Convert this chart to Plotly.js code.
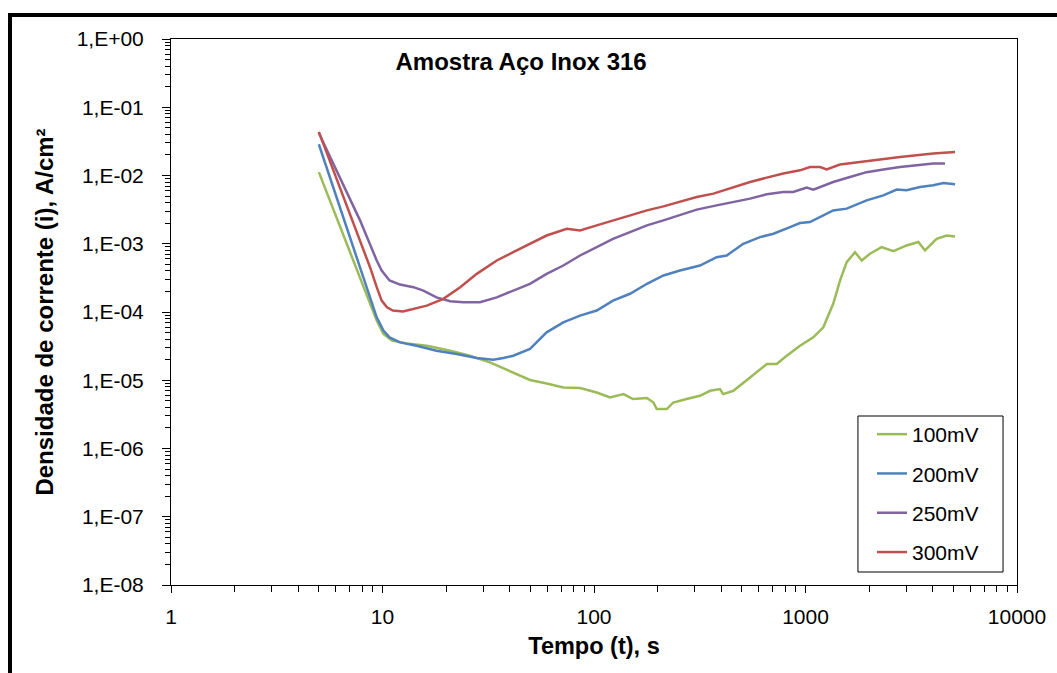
<!DOCTYPE html>
<html>
<head>
<meta charset="utf-8">
<script src="https://cdn.plot.ly/plotly-3.0.1.min.js"></script>
<style>
  html, body { margin: 0; padding: 0; background: #fff; }
  #wrap { position: relative; width: 1057px; height: 673px; overflow: hidden; }
  #chart { position: absolute; left: 0; top: 0; width: 1057px; height: 673px; }
  #frame { position: absolute; left: 8px; top: 13px; width: 1100px; height: 700px;
           border-top: 4px solid #000; border-left: 4px solid #000; pointer-events: none; }
</style>
</head>
<body>
<div id="wrap"><div id="chart"></div><div id="frame"></div></div>
<script>
// ---- data (time in s, current density in A/cm²) ----
const seriesNames = ["100mV", "200mV", "250mV", "300mV"];

const t100 = [5.0, 9.39, 10.1, 11.1, 13.0, 16.2, 20.9, 25.9, 32.2, 40.1, 49.8, 59.7, 71.6, 85.9, 103, 119, 138, 153, 178, 191, 198, 221, 237, 274, 317, 354, 394, 408, 456, 547, 656, 731, 815, 942, 1089, 1214, 1352, 1456, 1566, 1714, 1844, 2018, 2291, 2602, 3008, 3414, 3673, 4018, 4170, 4653, 5093];
const i100 = [1.12e-2, 7.48e-5, 4.77e-5, 3.80e-5, 3.47e-5, 3.21e-5, 2.71e-5, 2.29e-5, 1.83e-5, 1.35e-5, 1.01e-5, 8.97e-6, 7.84e-6, 7.68e-6, 6.62e-6, 5.59e-6, 6.27e-6, 5.30e-6, 5.48e-6, 4.72e-6, 3.78e-6, 3.78e-6, 4.72e-6, 5.30e-6, 5.92e-6, 7.01e-6, 7.43e-6, 6.27e-6, 7.01e-6, 1.10e-5, 1.73e-5, 1.73e-5, 2.29e-5, 3.21e-5, 4.25e-5, 5.96e-5, 1.32e-4, 2.89e-4, 5.37e-4, 7.53e-4, 5.69e-4, 7.13e-4, 8.91e-4, 7.78e-4, 9.44e-4, 1.06e-3, 7.98e-4, 1.06e-3, 1.18e-3, 1.32e-3, 1.28e-3];

const t200 = [5.0, 9.39, 10.1, 10.8, 12.1, 14.5, 18.0, 22.4, 27.9, 33.4, 37.3, 41.5, 49.8, 59.7, 71.6, 85.9, 103, 123, 148, 178, 213, 255, 317, 380, 424, 508, 609, 705, 845, 942, 1050, 1352, 1566, 1945, 2333, 2700, 3008, 3478, 4018, 4485, 5093];
const i200 = [2.87e-2, 8.36e-5, 5.33e-5, 4.25e-5, 3.59e-5, 3.21e-5, 2.71e-5, 2.43e-5, 2.12e-5, 2.00e-5, 2.12e-5, 2.29e-5, 2.87e-5, 5.04e-5, 7.06e-5, 8.85e-5, 1.05e-4, 1.47e-4, 1.85e-4, 2.59e-4, 3.43e-4, 4.06e-4, 4.80e-4, 6.36e-4, 6.73e-4, 1.00e-3, 1.25e-3, 1.40e-3, 1.75e-3, 2.01e-3, 2.08e-3, 3.08e-3, 3.27e-3, 4.32e-3, 5.12e-3, 6.21e-3, 6.07e-3, 6.78e-3, 7.18e-3, 7.76e-3, 7.43e-3];

const t250 = [5.0, 7.83, 9.39, 9.91, 10.8, 12.1, 14.0, 15.6, 18.0, 20.9, 24.1, 28.9, 34.7, 41.5, 49.8, 59.7, 71.6, 85.9, 103, 123, 148, 178, 213, 255, 306, 380, 456, 547, 656, 785, 875, 1013, 1089, 1352, 1623, 1945, 2333, 2799, 3356, 4018, 4568];
const i250 = [4.2e-2, 2.20e-3, 5.69e-4, 4.06e-4, 2.89e-4, 2.52e-4, 2.31e-4, 2.06e-4, 1.64e-4, 1.44e-4, 1.39e-4, 1.39e-4, 1.64e-4, 2.06e-4, 2.59e-4, 3.62e-4, 4.80e-4, 6.73e-4, 8.91e-4, 1.18e-3, 1.48e-3, 1.86e-3, 2.20e-3, 2.61e-3, 3.16e-3, 3.65e-3, 4.08e-3, 4.58e-3, 5.30e-3, 5.73e-3, 5.73e-3, 6.64e-3, 6.21e-3, 8.03e-3, 9.51e-3, 1.12e-2, 1.22e-2, 1.33e-2, 1.41e-2, 1.50e-2, 1.50e-2];

const t300 = [5.0, 8.73, 9.39, 9.91, 10.5, 11.2, 12.5, 16.2, 19.4, 23.3, 27.9, 34.7, 41.5, 49.8, 59.7, 74.3, 85.9, 103, 123, 148, 178, 213, 255, 306, 367, 456, 547, 656, 785, 942, 1050, 1172, 1259, 1456, 1945, 2799, 4018, 5093];
const i300 = [4.36e-2, 4.53e-4, 2.31e-4, 1.47e-4, 1.17e-4, 1.05e-4, 1.02e-4, 1.24e-4, 1.56e-4, 2.31e-4, 3.62e-4, 5.69e-4, 7.53e-4, 1.00e-3, 1.32e-3, 1.66e-3, 1.57e-3, 1.86e-3, 2.20e-3, 2.61e-3, 3.08e-3, 3.53e-3, 4.08e-3, 4.83e-3, 5.42e-3, 6.78e-3, 8.03e-3, 9.31e-3, 1.07e-2, 1.19e-2, 1.33e-2, 1.33e-2, 1.23e-2, 1.45e-2, 1.63e-2, 1.87e-2, 2.10e-2, 2.21e-2];

const yTickVals = [1e-8, 1e-7, 1e-6, 1e-5, 1e-4, 1e-3, 1e-2, 1e-1, 1];
const yTickText = ["1,E-08", "1,E-07", "1,E-06", "1,E-05", "1,E-04", "1,E-03", "1,E-02", "1,E-01", "1,E+00"];
const xTickVals = [1, 10, 100, 1000, 10000];
const xTickText = ["1", "10", "100", "1000", "10000"];

const colors = ["#9BBB59", "#4F81BD", "#8064A2", "#C0504D"];

// minor tick positions (2..9 within each decade)
function minorTicks(lo, hi) {
  const out = [];
  for (let e = lo; e < hi; e++) for (let k = 2; k <= 9; k++) out.push(k * Math.pow(10, e));
  return out;
}

const xs = [t100, t200, t250, t300];
const ys = [i100, i200, i250, i300];
const traces = seriesNames.map((n, k) => ({
  x: xs[k], y: ys[k], name: n, type: "scatter", mode: "lines",
  legendgroup: n,
  line: { color: colors[k], width: 2.5 }
}));

const fontFam = "Liberation Sans, Arial, sans-serif";
const layout = {
  width: 1057, height: 673,
  margin: { l: 171, r: 40, t: 39, b: 88 },
  paper_bgcolor: "rgba(0,0,0,0)",
  plot_bgcolor: "#fff",
  font: { family: fontFam, color: "#000", size: 21 },
  title: {
    text: "<b>Amostra Aço Inox 316</b>",
    font: { family: fontFam, size: 24, color: "#000" },
    x: 0.493, xanchor: "center", y: 0.908, yanchor: "middle"
  },
  xaxis: {
    type: "log", range: [0, 4],
    tickmode: "array", tickvals: xTickVals, ticktext: xTickText,
    ticks: "outside", ticklen: 7, tickcolor: "#000", tickwidth: 1,
    minor: { tickmode: "array", tickvals: minorTicks(0, 4), ticks: "outside", ticklen: 6, tickcolor: "#000", showgrid: false },
    showline: true, linecolor: "#000", linewidth: 1, mirror: true,
    showgrid: false, zeroline: false,
    tickfont: { size: 21, color: "#000" },
    ticklabelstandoff: 6,
    title: { text: "<b>Tempo (t), s</b>", font: { size: 23.5, color: "#000" }, standoff: 10 }
  },
  yaxis: {
    type: "log", range: [-8, 0],
    tickmode: "array", tickvals: yTickVals, ticktext: yTickText,
    ticks: "outside", ticklen: 8, tickcolor: "#000", tickwidth: 1,
    minor: { tickmode: "array", tickvals: minorTicks(-8, 0), ticks: "outside", ticklen: 5, tickcolor: "#000", showgrid: false },
    showline: true, linecolor: "#000", linewidth: 1, mirror: true,
    showgrid: false, zeroline: false,
    tickfont: { size: 21, color: "#000" },
    ticklabelstandoff: 14,
    title: { text: "<b>Densidade de corrente (i), A/cm²</b>", font: { size: 24, color: "#000" }, standoff: 16 }
  },
  shapes: [{
    type: "rect", xref: "paper", yref: "paper", layer: "above",
    x0: 0.812, x1: 0.9835, y0: 0.0238, y1: 0.3095,
    fillcolor: "#fff", line: { color: "#000", width: 1 }
  }],
  showlegend: true,
  legend: {
    x: 0.8286, y: 0.3132, xanchor: "left", yanchor: "top",
    bgcolor: "rgba(0,0,0,0)", borderwidth: 0,
    font: { size: 21, color: "#000" },
    traceorder: "grouped", tracegroupgap: 9
  }
};

Plotly.newPlot("chart", traces, layout, { staticPlot: true, displayModeBar: false });
</script>
</body>
</html>
